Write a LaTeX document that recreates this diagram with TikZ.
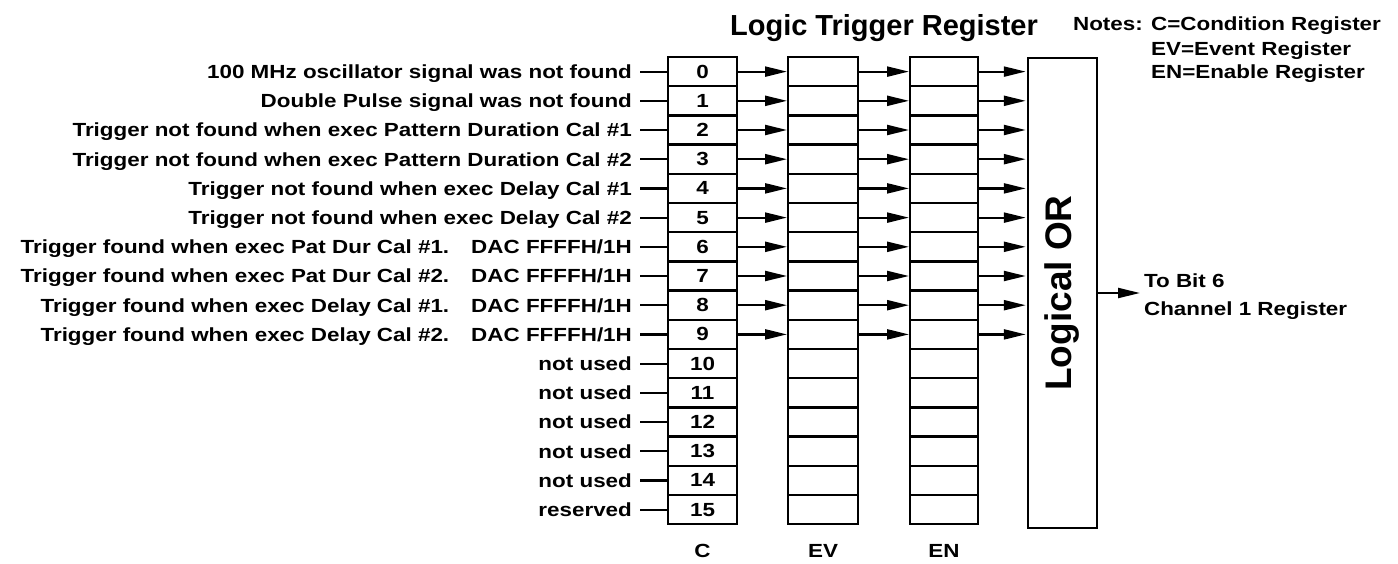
\documentclass[tikz,border=0pt]{standalone}
\usepackage{fontspec}
\setmainfont{Liberation Sans}
\newfontfamily\lblfont{Liberation Sans}[FakeStretch=1.18]
\newfontfamily\bigfont{Liberation Sans}
\usetikzlibrary{arrows.meta}
\begin{document}
\begin{tikzpicture}[x=1pt,y=-1pt,line width=2.2pt,
  lf/.style={font=\lblfont\bfseries\fontsize{19}{22}\selectfont},
  cell/.style={lf,draw,line width=2.5pt,minimum height=29.2pt,inner sep=0pt,outer sep=0pt},
  ccell/.style={cell,minimum width=69pt},
  evcell/.style={cell,minimum width=70pt},
  encell/.style={cell,minimum width=68pt},
  lbl/.style={lf,anchor=base east,inner sep=0pt},
  txt/.style={lf,anchor=base west,inner sep=0pt},
  arr/.style={-{Triangle[length=22pt,width=10pt]},shorten >=1pt},
]
\useasboundingbox (0,0) rectangle (1398,563);
\fill[white] (0,0) rectangle (1398,563);

% title
\node[font=\bigfont\bfseries\fontsize{29}{34}\selectfont,anchor=base,inner sep=0pt] (title) at (884,35) {Logic Trigger Register};

% registers
\foreach \i in {0,...,15}{
  \node[ccell] (c\i) at (702.5,{71.6+29.2*\i}) {\i};
  \node[evcell] (ev\i) at (823,{71.6+29.2*\i}) {};
  \node[encell] (en\i) at (944,{71.6+29.2*\i}) {};
  \draw (c\i.west) -- ++(-28,0);
}

% logical OR
\node[draw,line width=2.5pt,minimum width=69pt,minimum height=470pt,inner sep=0pt] (or) at (1062.5,293) {};
\node[rotate=90,font=\bigfont\bfseries\fontsize{37}{40}\selectfont,inner sep=0pt] (ortext) at (or.center) {Logical OR};

% arrows
\foreach \i in {0,...,9}{
  \draw[arr] (c\i.east) -- (ev\i.west);
  \draw[arr] (ev\i.east) -- (en\i.west);
  \draw[arr] (en\i.east) -- (en\i.east -| or.west);
}

% output
\coordinate (out) at (1141,293);
\draw[arr] (or.east) -- (out);
\node[txt] (tobit) at (1143,287) {To Bit 6};
\node[txt] (chan) at (1143,315) {Channel 1 Register};

% notes
\node[txt] (notes) at (1072,30) {Notes:};
\node[txt] (n1) at (1150,30) {C=Condition Register};
\node[txt] (n2) at (1150,55) {EV=Event Register};
\node[txt] (n3) at (1150,78) {EN=Enable Register};

% input labels
\node[lbl] (l0) at (633,78.4) {100 MHz oscillator signal was not found};
\node[lbl] (l1) at (633,107.6) {Double Pulse signal was not found};
\node[lbl] (l2) at (633,136.8) {Trigger not found when exec Pattern Duration Cal \#1};
\node[lbl] (l3) at (633,166.0) {Trigger not found when exec Pattern Duration Cal \#2};
\node[lbl] (l4) at (633,195.2) {Trigger not found when exec Delay Cal \#1};
\node[lbl] (l5) at (633,224.4) {Trigger not found when exec Delay Cal \#2};
\node[lbl] (l6) at (633,253.6) {Trigger found when exec Pat Dur Cal \#1.\hspace{22pt}DAC FFFFH/1H};
\node[lbl] (l7) at (633,282.8) {Trigger found when exec Pat Dur Cal \#2.\hspace{22pt}DAC FFFFH/1H};
\node[lbl] (l8) at (633,312.0) {Trigger found when exec Delay Cal \#1.\hspace{22pt}DAC FFFFH/1H};
\node[lbl] (l9) at (633,341.2) {Trigger found when exec Delay Cal \#2.\hspace{22pt}DAC FFFFH/1H};
\node[lbl] (l10) at (633,370.4) {not used};
\node[lbl] (l11) at (633,399.6) {not used};
\node[lbl] (l12) at (633,428.8) {not used};
\node[lbl] (l13) at (633,458.0) {not used};
\node[lbl] (l14) at (633,487.2) {not used};
\node[lbl] (l15) at (633,516.4) {reserved};

% register names
\node[lf,anchor=base,inner sep=0pt] (cname) at (702.5,557) {C};
\node[lf,anchor=base,inner sep=0pt] (evname) at (823,557) {EV};
\node[lf,anchor=base,inner sep=0pt] (enname) at (944,557) {EN};
\end{tikzpicture}
\end{document}
